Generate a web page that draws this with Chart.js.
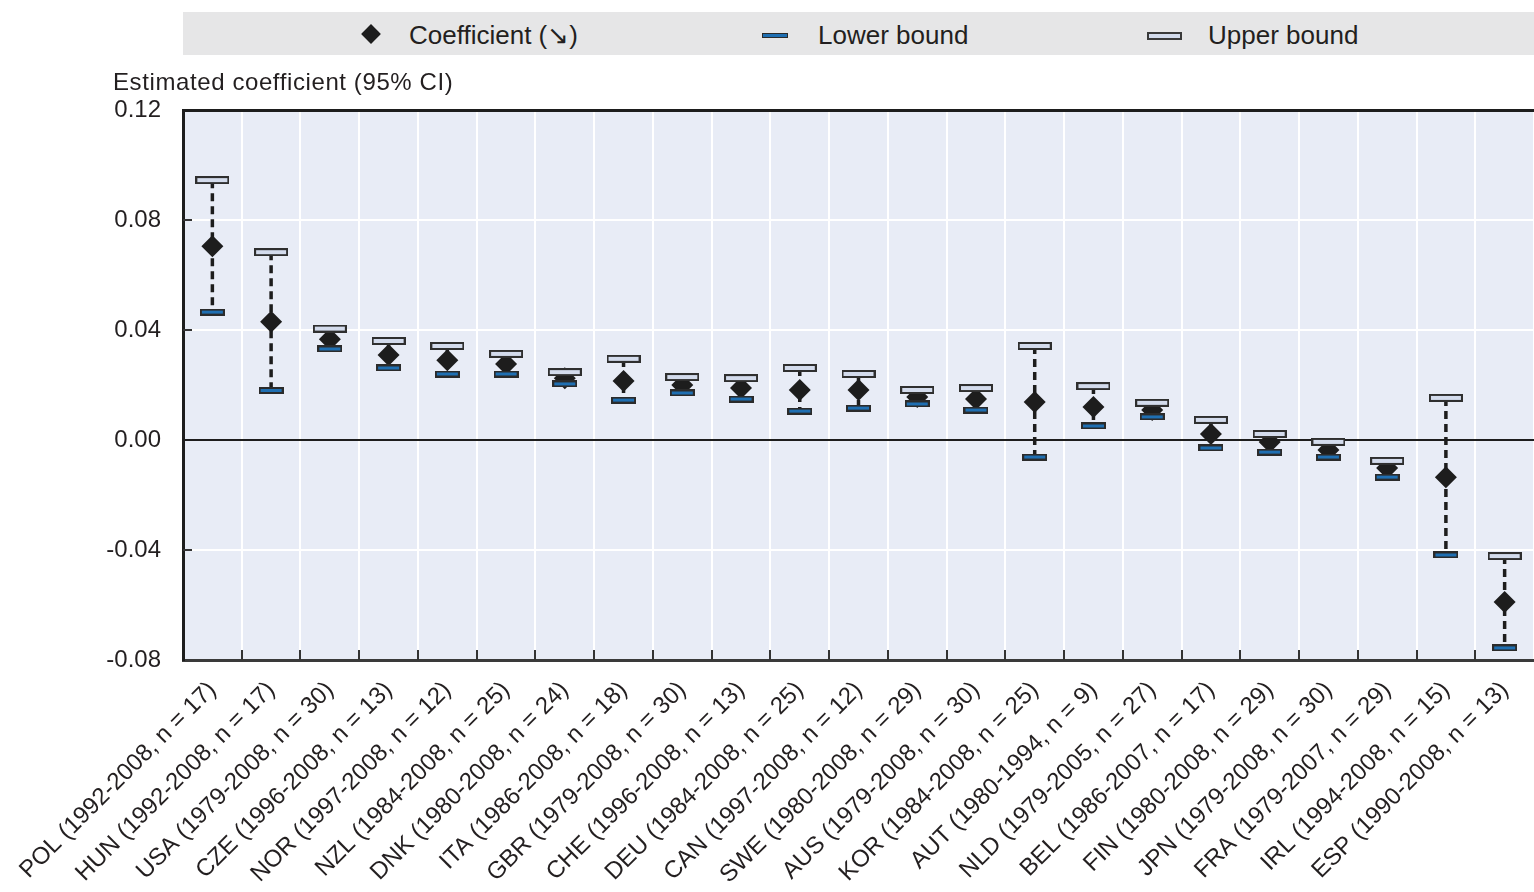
<!DOCTYPE html>
<html>
<head>
<meta charset="utf-8">
<script src="https://cdn.jsdelivr.net/npm/chart.js@4.4.1/dist/chart.umd.min.js"></script>
<style>
  body { margin: 0; background: #fff; font-family: "Liberation Sans", Arial, sans-serif; color: #231f20; }
  #wrap { position: relative; width: 1534px; height: 892px; }
  #chart { position: absolute; left: 0; top: 0; }
  .legend { position: absolute; left: 183px; top: 12px; width: 1351px; height: 43px; background: #e6e6e7; }
  .item { position: absolute; top: 0; height: 43px; line-height: 47px; font-size: 26px; white-space: nowrap; }
  .mk { position: absolute; }
  .ytitle { position: absolute; left: 113px; top: 68px; font-size: 24px; letter-spacing: 0.6px; white-space: nowrap; }
</style>
</head>
<body>
<div id="wrap">
  <canvas id="chart" width="1534" height="892"></canvas>
  <div class="legend">
    <div class="mk" style="left:181px;top:15px;width:14px;height:14px;background:#1d1d1d;transform:rotate(45deg);"></div>
    <div class="item" style="left:226px;">Coefficient (↘)</div>
    <div class="mk" style="left:579px;top:21px;width:24px;height:3px;background:#1f6fb2;border:1.5px solid #2b2b2b;"></div>
    <div class="item" style="left:635px;">Lower bound</div>
    <div class="mk" style="left:964px;top:20px;width:31px;height:4px;background:#d3dbec;border:2px solid #3a3a3a;"></div>
    <div class="item" style="left:1025px;">Upper bound</div>
  </div>
  <div class="ytitle">Estimated coefficient (95% CI)</div>
</div>
<script>
// countries, sorted by coefficient (descending)
const categories = [
  "POL (1992-2008, n = 17)", "HUN (1992-2008, n = 17)", "USA (1979-2008, n = 30)",
  "CZE (1996-2008, n = 13)", "NOR (1997-2008, n = 12)", "NZL (1984-2008, n = 25)",
  "DNK (1980-2008, n = 24)", "ITA (1986-2008, n = 18)", "GBR (1979-2008, n = 30)",
  "CHE (1996-2008, n = 13)", "DEU (1984-2008, n = 25)", "CAN (1997-2008, n = 12)",
  "SWE (1980-2008, n = 29)", "AUS (1979-2008, n = 30)", "KOR (1984-2008, n = 25)",
  "AUT (1980-1994, n = 9)", "NLD (1979-2005, n = 27)", "BEL (1986-2007, n = 17)",
  "FIN (1980-2008, n = 29)", "JPN (1979-2008, n = 30)", "FRA (1979-2007, n = 29)",
  "IRL (1994-2008, n = 15)", "ESP (1990-2008, n = 13)"
];

const coefficient = [0.0705, 0.0430, 0.0366, 0.0309, 0.0290, 0.0276, 0.0225, 0.0215, 0.0200, 0.0189, 0.0182, 0.0182,
  0.0156, 0.0149, 0.0138, 0.0120, 0.0109, 0.0022, -0.0007, -0.0036, -0.0102, -0.0135, -0.0589];
const lowerBound = [0.0465, 0.0180, 0.0331, 0.0262, 0.0240, 0.0240, 0.0204, 0.0145, 0.0171, 0.0149, 0.0105, 0.0116,
  0.0131, 0.0109, -0.0062, 0.0051, 0.0084, -0.0029, -0.0044, -0.0062, -0.0135, -0.0418, -0.0756];
const upperBound = [0.0945, 0.0683, 0.0405, 0.0360, 0.0342, 0.0313, 0.0247, 0.0295, 0.0229, 0.0225, 0.0262, 0.0240,
  0.0182, 0.0189, 0.0342, 0.0196, 0.0135, 0.0073, 0.0022, -0.0007, -0.0076, 0.0153, -0.0422];

const yTicks = [-0.08, -0.04, 0, 0.04, 0.08, 0.12];

function barImage(w, h, fill, edge) {
  const c = document.createElement("canvas");
  c.width = w;
  c.height = h;
  const g = c.getContext("2d");
  g.fillStyle = edge;
  g.fillRect(0, 0, w, h);
  g.fillStyle = fill;
  g.fillRect(2, 2, w - 4, h - 4);
  return c;
}

const upperImg = barImage(34, 8, "#d3dbec", "#2f2f2f");
const lowerImg = barImage(25, 7, "#1f6fb2", "#2b2b2b");

// plot background, whiskers and inward ticks
const extras = {
  id: "extras",
  beforeDraw(chart) {
    const { ctx, chartArea: a } = chart;
    ctx.save();
    ctx.fillStyle = "#e8ecf6";
    ctx.fillRect(a.left, a.top, a.right - a.left, a.bottom - a.top);
    ctx.restore();
  },
  beforeDatasetsDraw(chart) {
    const { ctx, chartArea: a } = chart;
    const xs = chart.scales.x, ys = chart.scales.y;
    ctx.save();
    ctx.strokeStyle = "#1d1d1d";
    ctx.lineWidth = 3.5;
    ctx.setLineDash([8, 5]);
    for (let i = 0; i < categories.length; i++) {
      const x = xs.getPixelForValue(i);
      ctx.beginPath();
      ctx.moveTo(x, ys.getPixelForValue(upperBound[i]));
      ctx.lineTo(x, ys.getPixelForValue(lowerBound[i]));
      ctx.stroke();
    }
    ctx.setLineDash([]);
    ctx.lineWidth = 2;
    ctx.strokeStyle = "#333";
    const step = (a.right - a.left) / categories.length;
    for (let i = 1; i < categories.length; i++) {
      const x = Math.round(a.left + step * i);
      ctx.beginPath();
      ctx.moveTo(x, a.bottom);
      ctx.lineTo(x, a.bottom - 10);
      ctx.stroke();
    }
    yTicks.forEach(v => {
      if (v === 0 || v === 0.12 || v === -0.08) return;
      const y = ys.getPixelForValue(v);
      ctx.beginPath();
      ctx.moveTo(a.left, y);
      ctx.lineTo(a.left + 9, y);
      ctx.stroke();
    });
    ctx.restore();
  }
};

new Chart(document.getElementById("chart"), {
  type: "line",
  data: {
    labels: categories,
    datasets: [
      {
        label: "Lower bound",
        data: lowerBound,
        showLine: false,
        pointStyle: lowerImg
      },
      {
        label: "Upper bound",
        data: upperBound,
        showLine: false,
        pointStyle: upperImg
      },
      {
        label: "Coefficient",
        data: coefficient,
        showLine: false,
        pointStyle: "rectRot",
        pointRadius: 11,
        backgroundColor: "#1d1d1d",
        borderColor: "#1d1d1d",
        borderWidth: 0
      }
    ]
  },
  options: {
    responsive: false,
    animation: false,
    layout: { autoPadding: false, padding: { top: 110, left: 0, right: 0, bottom: 0 } },
    plugins: { legend: { display: false }, tooltip: { enabled: false } },
    scales: {
      x: {
        offset: true,
        grid: { offset: true, color: "#ffffff", lineWidth: 2, drawTicks: false },
        border: { color: "#3a3a3a", width: 3 },
        ticks: {
          autoSkip: false,
          minRotation: 45,
          maxRotation: 45,
          padding: 16,
          color: "#231f20",
          font: { family: "'Liberation Sans', Arial, sans-serif", size: 24 }
        },
        afterFit(scale) {
          scale.height = 232;
          scale.paddingLeft = 0;
          scale.paddingRight = 0;
        }
      },
      y: {
        min: -0.08,
        max: 0.12,
        afterBuildTicks(scale) {
          scale.ticks = yTicks.map(v => ({ value: v }));
        },
        grid: {
          drawTicks: false,
          color: c => c.tick.value === 0 ? "#1d1d1d" : (c.tick.value > 0.11 ? "#1d1d1d" : "#ffffff"),
          lineWidth: c => c.tick.value > 0.11 ? 3 : 2
        },
        border: { color: "#1d1d1d", width: 3 },
        ticks: {
          padding: 22,
          color: "#231f20",
          font: { family: "'Liberation Sans', Arial, sans-serif", size: 24 },
          callback: v => v.toFixed(2)
        },
        afterFit(scale) {
          scale.width = 183;
        }
      }
    }
  },
  plugins: [extras]
});
</script>
</body>
</html>
